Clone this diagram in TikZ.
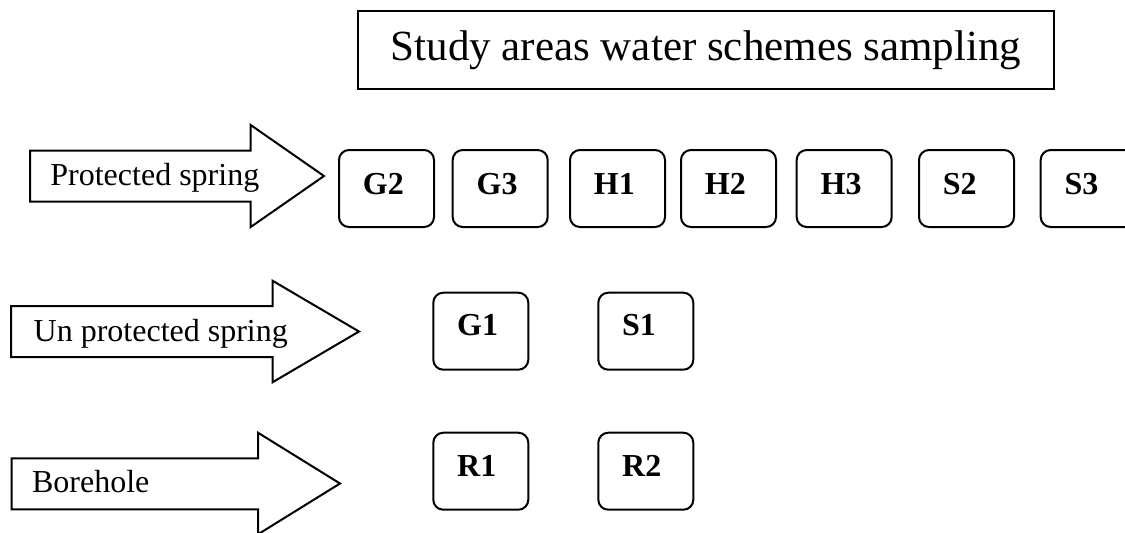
\documentclass[tikz,border=0pt]{standalone}
\usepackage{fontspec}
\setmainfont{Liberation Serif}
\usetikzlibrary{calc}
\tikzset{
  titlebox/.style={draw, line width=1pt, anchor=north west, inner sep=0pt, outer sep=0pt,
    minimum width=348pt, minimum height=39pt, font=\fontsize{21.5}{26}\selectfont},
  sbox/.style={draw, line width=1pt, rounded corners=5pt, anchor=north west,
    inner sep=0pt, outer sep=0pt, minimum width=47.5pt, minimum height=38.5pt},
  slabel/.style={anchor=base west, inner sep=0pt, font=\fontsize{16}{19}\selectfont\bfseries},
  alabel/.style={anchor=base west, inner sep=0pt, font=\fontsize{16}{19}\selectfont},
  bigarrow/.style={draw, line width=1pt, line join=miter, fill=white},
}
\begin{document}
\begin{tikzpicture}[x=0.5pt, y=-0.5pt]
  \useasboundingbox (0,0) rectangle (1125,532);
  \clip (0,0) rectangle (1125,532);

  % heading
  \node[titlebox] (title) at (358,11) {Study areas water schemes sampling};

  % block arrows for the three scheme types
  \draw[bigarrow] (30,150.7) -- (250.7,150.7) -- (250.7,125) -- (324,176)
    -- (250.7,227) -- (250.7,201.7) -- (30,201.7) -- cycle;
  \node[alabel] (protected) at (50,185.7) {Protected spring};

  \draw[bigarrow] (11,306) -- (272.5,306) -- (272.5,280.7) -- (359,331.5)
    -- (272.5,382.3) -- (272.5,357) -- (11,357) -- cycle;
  \node[alabel] (unprotected) at (33.3,341) {Un protected spring};

  \draw[bigarrow] (11.7,458.3) -- (258,458.3) -- (258,432.7) -- (340,483.5)
    -- (258,534.3) -- (258,509.3) -- (11.7,509.3) -- cycle;
  \node[alabel] (borehole) at (31.7,492.7) {Borehole};

  % sampled schemes: protected springs
  \foreach \name/\x in {G2/339, G3/452.7, H1/570, H2/681, H3/796.7, S2/919, S3/1040.7} {
    \node[sbox] (\name) at (\x,150) {};
    \node[slabel] (\name-text) at ($(\name.north west)+(23.5,44)$) {\name};
  }
  % unprotected springs
  \foreach \name/\x in {G1/433.3, S1/598.3} {
    \node[sbox] (\name) at (\x,292.7) {};
    \node[slabel] (\name-text) at ($(\name.north west)+(23.5,43)$) {\name};
  }
  % boreholes
  \foreach \name/\x in {R1/433.3, R2/598.3} {
    \node[sbox] (\name) at (\x,432.7) {};
    \node[slabel] (\name-text) at ($(\name.north west)+(23.5,43.5)$) {\name};
  }
\end{tikzpicture}
\end{document}
